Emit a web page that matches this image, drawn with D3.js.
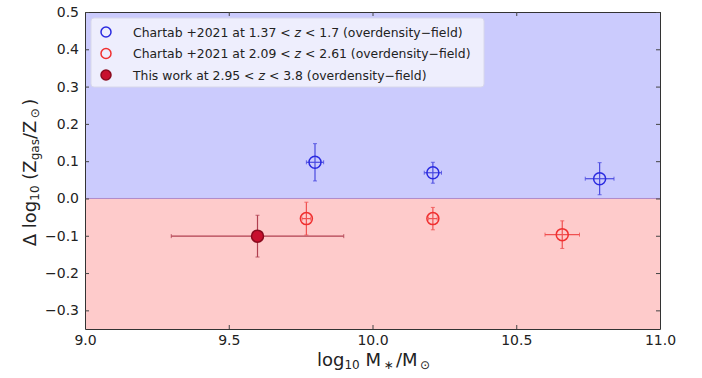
<!DOCTYPE html>
<html>
<head>
<meta charset="utf-8">
<script src="https://cdn.jsdelivr.net/npm/d3@7"></script>
<style>
  body { margin: 0; background: #fff; }
  text { font-family: "DejaVu Sans", sans-serif; }
</style>
</head>
<body>
<div id="chart"></div>
<script>
// data
var lowZMass  = [9.80, 10.21, 10.79];
var lowZMassErr = [0.03, 0.03, 0.05];
var lowZDelta = [0.097, 0.069, 0.053];
var lowZDeltaErr = [0.050, 0.028, 0.043];

var midZMass  = [9.77, 10.21, 10.66];
var midZMassErr = [0.015, 0.015, 0.06];
var midZDelta = [-0.054, -0.054, -0.097];
var midZDeltaErr = [0.044, 0.030, 0.037];

var thisMass = [9.60];
var thisMassErr = [0.30];
var thisDelta = [-0.101];
var thisDeltaErr = [0.056];

var xTicks = [9.0, 9.5, 10.0, 10.5, 11.0];
var yTicks = [-0.3, -0.2, -0.1, 0.0, 0.1, 0.2, 0.3, 0.4, 0.5];
var legendLabels = [
  ["Chartab +2021 at 1.37 < ", "z", " < 1.7 (overdensity\u2212field)"],
  ["Chartab +2021 at 2.09 < ", "z", " < 2.61 (overdensity\u2212field)"],
  ["This work at 2.95 < ", "z", " < 3.8 (overdensity\u2212field)"]
];

var svgWidth = 702, svgHeight = 378;
var margin = {top: 12, right: 42, bottom: 49, left: 85};
var width = svgWidth - margin.left - margin.right;
var height = svgHeight - margin.top - margin.bottom;

var svg = d3.select("#chart").append("svg")
  .attr("width", svgWidth)
  .attr("height", svgHeight);
var g = svg.append("g").attr("transform", `translate(${margin.left},${margin.top})`);

var x = d3.scaleLinear().domain([9.0, 11.0]).range([0, width]);
var y = d3.scaleLinear().domain([-0.35, 0.5]).range([height, 0]);

// shaded halves
g.append("rect").attr("x", 0).attr("y", y(0.5)).attr("width", width)
  .attr("height", y(0) - y(0.5)).attr("fill", "#cbcbfd");
g.append("rect").attr("x", 0).attr("y", y(0)).attr("width", width)
  .attr("height", y(-0.35) - y(0)).attr("fill", "#fecbcb");
g.append("line").attr("x1", 0).attr("x2", width).attr("y1", y(0)).attr("y2", y(0))
  .attr("stroke", "#b08ac8").attr("stroke-width", 1);

// axes, ticks pointing inward, mirrored
function styleAxis(sel) {
  sel.select(".domain").attr("stroke", "#333").attr("stroke-width", 1);
  sel.selectAll(".tick line").attr("stroke", "#444");
  sel.selectAll("text").attr("fill", "#222").style("font-size", "14px");
}
g.append("g").attr("transform", `translate(0,${height})`)
  .call(d3.axisBottom(x).tickValues(xTicks).tickFormat(d3.format(".1f")).tickSizeInner(-4).tickSizeOuter(0).tickPadding(6))
  .call(styleAxis);
g.append("g")
  .call(d3.axisTop(x).tickValues(xTicks).tickFormat("").tickSizeInner(-4).tickSizeOuter(0))
  .call(styleAxis);
g.append("g")
  .call(d3.axisLeft(y).tickValues(yTicks).tickFormat(d => d3.format(".1f")(d).replace("-", "\u2212")).tickSizeInner(-4).tickSizeOuter(0).tickPadding(6))
  .call(styleAxis);
g.append("g").attr("transform", `translate(${width},0)`)
  .call(d3.axisRight(y).tickValues(yTicks).tickFormat("").tickSizeInner(-4).tickSizeOuter(0))
  .call(styleAxis);

// error bars + markers
function drawSeries(mass, massErr, delta, deltaErr, color, fill, edge, lw) {
  var pts = mass.map((m, i) => ({m: m, me: massErr[i], d: delta[i], de: deltaErr[i]}));
  var grp = g.append("g");
  pts.forEach(function(p) {
    var cx = x(p.m), cy = y(p.d);
    grp.append("line").attr("x1", x(p.m - p.me)).attr("x2", x(p.m + p.me))
      .attr("y1", cy).attr("y2", cy).attr("stroke", color).attr("stroke-width", lw);
    grp.append("line").attr("x1", cx).attr("x2", cx)
      .attr("y1", y(p.d - p.de)).attr("y2", y(p.d + p.de)).attr("stroke", color).attr("stroke-width", lw);
    // caps
    [p.m - p.me, p.m + p.me].forEach(function(v) {
      grp.append("line").attr("x1", x(v)).attr("x2", x(v)).attr("y1", cy - 2).attr("y2", cy + 2)
        .attr("stroke", color).attr("stroke-width", 0.8);
    });
    [p.d - p.de, p.d + p.de].forEach(function(v) {
      grp.append("line").attr("x1", cx - 2).attr("x2", cx + 2).attr("y1", y(v)).attr("y2", y(v))
        .attr("stroke", color).attr("stroke-width", 0.8);
    });
    grp.append("circle").attr("cx", cx).attr("cy", cy).attr("r", 6)
      .attr("fill", fill).attr("stroke", edge).attr("stroke-width", 1.5);
  });
}
drawSeries(lowZMass, lowZMassErr, lowZDelta, lowZDeltaErr, "#4a4ae0", "none", "#2a2ae0", 1.2);
drawSeries(midZMass, midZMassErr, midZDelta, midZDeltaErr, "#f05050", "none", "#f03030", 1.2);
drawSeries(thisMass, thisMassErr, thisDelta, thisDeltaErr, "#b04050", "#c8102e", "#8a0a1e", 1.2);

// legend
var leg = svg.append("g").attr("transform", "translate(91,18)");
leg.append("rect").attr("width", 393).attr("height", 69).attr("rx", 3)
  .attr("fill", "#f4f4fd").attr("fill-opacity", 0.85).attr("stroke", "#d8d8ea");
var legMarks = [
  {fill: "none", edge: "#2a2ae0"},
  {fill: "none", edge: "#f03030"},
  {fill: "#c8102e", edge: "#8a0a1e"}
];
legendLabels.forEach(function(parts, i) {
  var yy = 14 + i * 21.5;
  leg.append("circle").attr("cx", 15).attr("cy", yy).attr("r", 5)
    .attr("fill", legMarks[i].fill).attr("stroke", legMarks[i].edge).attr("stroke-width", 1.5);
  var t = leg.append("text").attr("x", 42).attr("y", yy + 4.5)
    .style("font-size", "12.4px").attr("fill", "#222");
  t.append("tspan").text(parts[0]);
  t.append("tspan").style("font-style", "italic").text(parts[1]);
  t.append("tspan").text(parts[2]);
});

// axis labels
function sub(t, s) {
  t.append("tspan").attr("baseline-shift", "-28%").style("font-size", "12px").text(s);
}
var xl = svg.append("text").attr("x", margin.left + width / 2 + 1).attr("y", 366)
  .attr("text-anchor", "middle").style("font-size", "18px").attr("fill", "#222");
xl.append("tspan").text("log");
sub(xl, "10");
xl.append("tspan").text(" M");
sub(xl, "\u2009\u2217\u2009");
xl.append("tspan").text("/M");
sub(xl, "\u2009\u2299");

var yl = svg.append("text").attr("transform", `translate(36,${margin.top + height / 2 + 2}) rotate(-90)`)
  .attr("text-anchor", "middle").style("font-size", "18px").attr("fill", "#222");
yl.append("tspan").text("\u0394 log");
sub(yl, "10");
yl.append("tspan").text(" (Z");
sub(yl, "gas");
yl.append("tspan").text("/Z");
sub(yl, "\u2009\u2299\u2009");
yl.append("tspan").text(")");
</script>
</body>
</html>
